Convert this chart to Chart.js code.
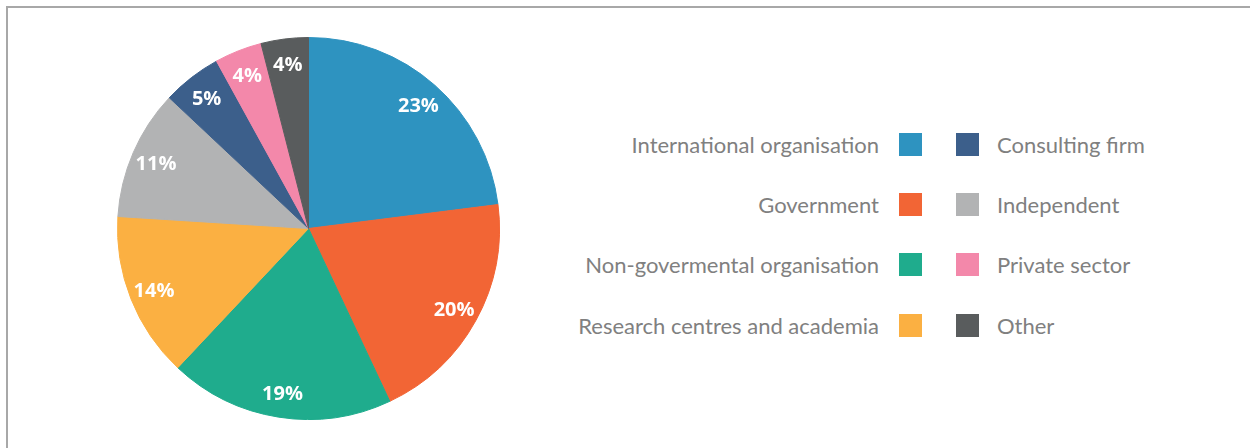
<!DOCTYPE html>
<html>
<head>
<meta charset="utf-8">
<script src="https://cdn.jsdelivr.net/npm/chart.js@4"></script>
<style>
  html, body { margin: 0; padding: 0; background: #fff; overflow: hidden; }
  #marco { position: absolute; left: 6px; top: 6px; width: 1400px; height: 600px;
           border-left: 2px solid #a8a8a8; border-top: 2px solid #a8a8a8; }
  #caja { position: absolute; left: 117px; top: 37px; width: 383px; height: 383px; }
  .fila { position: absolute; height: 24px; font-family: Lato, sans-serif; font-size: 22px;
          color: #808080; line-height: 24px; white-space: nowrap; }
  .izq { right: 328px; text-align: right; }
  .der { left: 956px; }
  .cuadro { display: inline-block; width: 23px; height: 23px; vertical-align: top; }
</style>
</head>
<body>
<div id="marco"></div>
<div id="caja"><canvas id="grafica"></canvas></div>
<div id="leyenda"></div>
<script>
// orden de las porciones: en sentido horario desde arriba
const categorias = ['International organisation', 'Government', 'Non-govermental organisation',
  'Research centres and academia', 'Independent', 'Consulting firm', 'Private sector', 'Other'];
const porcentajes = [23, 20, 19, 14, 11, 5, 4, 4];
const colores = ['#2e93c0', '#f26535', '#1fac8d', '#fbb042', '#b2b3b4', '#3c5f8b', '#f388aa', '#595c5d'];

// columnas de la leyenda (como en el original)
const leyendaIzq = ['International organisation', 'Government', 'Non-govermental organisation', 'Research centres and academia'];
const leyendaDer = ['Consulting firm', 'Independent', 'Private sector', 'Other'];

const filasY = [133, 193, 253, 314];
const color = c => colores[categorias.indexOf(c)];
document.getElementById('leyenda').innerHTML =
  leyendaIzq.map((c, i) =>
    `<div class="fila izq" style="top:${filasY[i]}px">${c}<span class="cuadro" style="background:${color(c)};margin-left:20px"></span></div>`
  ).join('') +
  leyendaDer.map((c, i) =>
    `<div class="fila der" style="top:${filasY[i]}px"><span class="cuadro" style="background:${color(c)};margin-right:18px"></span>${c}</div>`
  ).join('');

// etiquetas blancas dentro de cada porción
const etiquetas = {
  id: 'etiquetas',
  afterDatasetsDraw(chart) {
    const ctx = chart.ctx;
    ctx.save();
    ctx.fillStyle = '#fff';
    ctx.font = 'bold 20px "Open Sans", sans-serif';
    ctx.textAlign = 'center';
    ctx.textBaseline = 'middle';
    chart.getDatasetMeta(0).data.forEach((arc, i) => {
      const p = arc.getProps(['x', 'y', 'startAngle', 'endAngle', 'outerRadius']);
      const a = (p.startAngle + p.endAngle) / 2;
      const r = p.outerRadius * 0.87;
      ctx.fillText(porcentajes[i] + '%', p.x + Math.cos(a) * r, p.y + Math.sin(a) * r + 2);
    });
    ctx.restore();
  }
};

new Chart(document.getElementById('grafica'), {
  type: 'pie',
  data: {
    labels: categorias,
    datasets: [{ data: porcentajes, backgroundColor: colores, borderColor: colores, borderWidth: 1 }],
  },
  options: {
    responsive: true,
    maintainAspectRatio: false,
    animation: false,
    layout: { padding: 0 },
    plugins: { legend: { display: false }, tooltip: { enabled: false } },
  },
  plugins: [etiquetas],
});
</script>
</body>
</html>
